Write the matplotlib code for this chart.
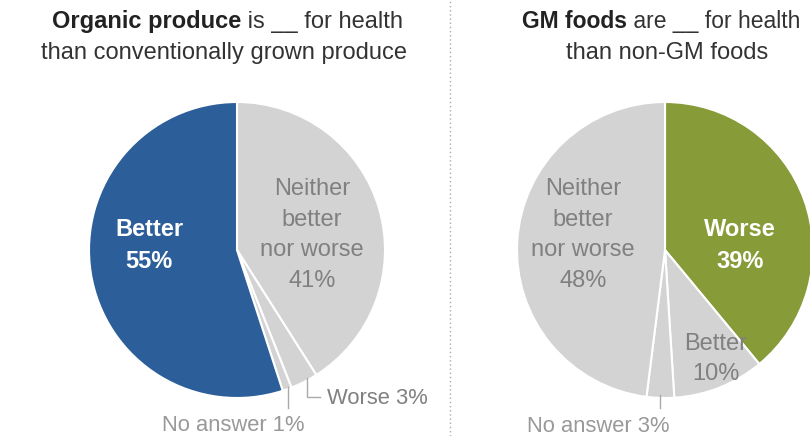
import matplotlib.pyplot as plt

plt.rcParams['font.family'] = ['Liberation Sans', 'DejaVu Sans']

# data
organic_labels = ['Neither better nor worse', 'Worse', 'No answer', 'Better']
organic_values = [41, 3, 1, 55]
gm_labels = ['Worse', 'Better', 'No answer', 'Neither better nor worse']
gm_values = [39, 10, 3, 48]

BLUE = '#2c5f99'
GREEN = '#879b38'
GREY = '#d3d3d3'
TXT = '#808080'

organic_colors = [GREY, GREY, GREY, BLUE]
gm_colors = [GREEN, GREY, GREY, GREY]

W, H = 810, 436
fig = plt.figure(figsize=(W / 100, H / 100), dpi=100)
ax = fig.add_axes([0, 0, 1, 1])


def Y(y):
    return H - y


R = 148
wp = dict(edgecolor='white', linewidth=1.5)
ax.pie(organic_values, colors=organic_colors, startangle=90, counterclock=False,
       center=(237, Y(250)), radius=R, wedgeprops=wp, frame=True)
ax.pie(gm_values, colors=gm_colors, startangle=90, counterclock=False,
       center=(665, Y(250)), radius=R, wedgeprops=wp, frame=True)
ax.set_xlim(0, W)
ax.set_ylim(0, H)
ax.set_aspect('equal')
ax.axis('off')

fs = 17
fs_out = 15.8
ls = 1.5
# titles
t = ax.text(52, Y(22), 'Organic produce', fontweight='bold', ha='left', va='center',
            fontsize=fs, color='#222222')
ax.annotate(' is __ for health', xycoords=t, xy=(1, 0.5), va='center', ha='left',
            fontsize=fs, color='#333333')
ax.text(224, Y(53), 'than conventionally grown produce', ha='center', va='center',
        fontsize=fs, color='#333333')

t2 = ax.text(522, Y(22), 'GM foods', fontweight='bold', ha='left', va='center',
             fontsize=16.5, color='#222222')
ax.annotate(' are __ for health', xycoords=t2, xy=(1, 0.5), va='center', ha='left',
            fontsize=16.5, color='#333333')
ax.text(667, Y(53), 'than non-GM foods', ha='center', va='center',
        fontsize=fs, color='#333333')

# slice labels
ax.text(149, Y(245), 'Better\n55%', ha='center', va='center', fontsize=fs,
        fontweight='bold', color='white', linespacing=ls)
ax.text(312, Y(235), 'Neither\nbetter\nnor worse\n41%', ha='center', va='center',
        fontsize=fs, color=TXT, linespacing=ls)
ax.text(583, Y(235), 'Neither\nbetter\nnor worse\n48%', ha='center', va='center',
        fontsize=fs, color=TXT, linespacing=ls)
ax.text(740, Y(245), 'Worse\n39%', ha='center', va='center', fontsize=fs,
        fontweight='bold', color='white', linespacing=ls)
ax.text(716, Y(359), 'Better\n10%', ha='center', va='center', fontsize=fs,
        color=TXT, linespacing=ls)

# leader lines and outside labels
lc = '#aaaaaa'
ax.plot([307, 307, 320], [Y(378), Y(397), Y(397)], color=lc, lw=1)
ax.text(327, Y(398), 'Worse 3%', ha='left', va='center', fontsize=fs_out, color=TXT)
ax.plot([288, 288], [Y(387), Y(408)], color=lc, lw=1)
ax.text(233, Y(425), 'No answer 1%', ha='center', va='center', fontsize=fs_out, color='#999999')
ax.plot([660, 660], [Y(395), Y(408)], color=lc, lw=1)
ax.text(598, Y(426), 'No answer 3%', ha='center', va='center', fontsize=fs_out, color='#999999')

# divider
ax.plot([450, 450], [0, H], color='#aaaaaa', lw=1, linestyle=(0, (1, 2)))

fig.savefig('out.png', dpi=100)
